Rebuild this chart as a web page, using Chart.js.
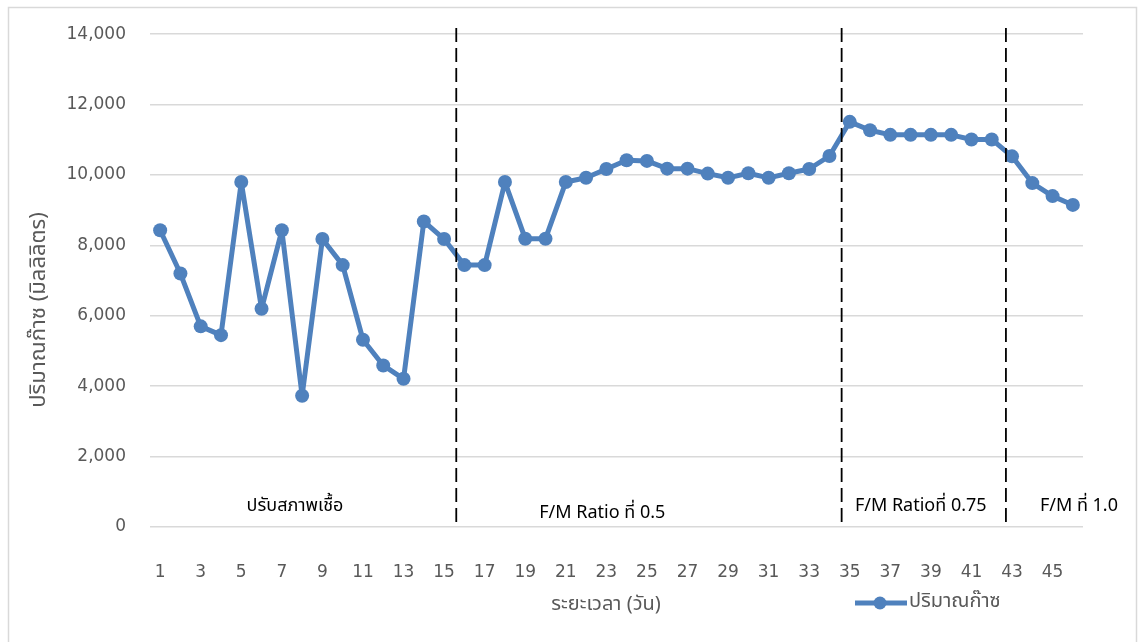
<!DOCTYPE html>
<html>
<head>
<meta charset="utf-8">
<script src="https://cdn.jsdelivr.net/npm/chart.js@4.4.1/dist/chart.umd.min.js"></script>
<style>
  body { margin: 0; background: #fff; }
  #wrap { width: 1139px; height: 642px; }
</style>
</head>
<body>
<div id="wrap"><canvas id="gaschart" width="1139" height="642"></canvas></div>
<script>
const days = ["1","2","3","4","5","6","7","8","9","10","11","12","13","14","15","16",
    "17","18","19","20","21","22","23","24","25","26","27","28","29","30","31",
    "32","33","34","35","36","37","38","39","40","41","42","43","44","45","46"];
const gasVolume = [8430, 7200, 5700, 5450, 9800, 6200, 8430, 3730, 8180, 7440,
    5320, 4590, 4210, 8680, 8180, 7440, 7440, 9800, 8190, 8190,
    9800, 9920, 10170, 10420, 10400, 10180, 10180, 10040, 9920, 10050,
    9920, 10050, 10170, 10540, 11510, 11270, 11140, 11140, 11140, 11140,
    11010, 11010, 10530, 9770, 9400, 9150];

// phase boundaries and labels, in category index units (0 = day 1)
const phaseBreaks = [14.6, 33.6, 41.7];
const phaseNames = ["ปรับสภาพเชื้อ", "F/M Ratio ที่ 0.5", "F/M Ratioที่ 0.75", "F/M ที่ 1.0"];
const phaseCenters = [6.65, 21.8, 37.5, 45.3];
const phaseLabelY = [560, 370, 560, 560];

const yTicks = [0, 2000, 4000, 6000, 8000, 10000, 12000, 14000];

const seriesName = "ปริมาณก๊าซ";
const xTitle = "ระยะเวลา (วัน)";
const yTitle = "ปริมาณก๊าซ (มิลลิลิตร)";

const blue = "#4f81bd";
const grey = "#595959";
const thaiFont = "Tahoma, 'Noto Sans Thai', 'Leelawadee UI', 'DejaVu Sans', sans-serif";

const extras = {
    id: "extras",
    beforeDraw(chart) {
        const c = chart.ctx;
        c.save();
        c.fillStyle = "#fff";
        c.fillRect(0, 0, chart.width, chart.height);
        c.strokeStyle = "#d9d9d9";
        c.lineWidth = 1.5;
        c.strokeRect(8.5, 7.5, 1128, 650);
        c.restore();
    },
    afterDatasetsDraw(chart) {
        const c = chart.ctx;
        const x = chart.scales.x, y = chart.scales.y;
        c.save();
        c.strokeStyle = "#000";
        c.lineWidth = 1.8;
        c.setLineDash([14, 6]);
        phaseBreaks.forEach(b => {
            const px = x.getPixelForValue(b);
            c.beginPath();
            c.moveTo(px, 28);
            c.lineTo(px, chart.chartArea.bottom - 5);
            c.stroke();
        });
        c.setLineDash([]);
        c.fillStyle = "#000";
        c.font = "18px " + thaiFont;
        c.textAlign = "center";
        c.textBaseline = "middle";
        phaseNames.forEach((t, i) => {
            c.fillText(t, x.getPixelForValue(phaseCenters[i]), y.getPixelForValue(phaseLabelY[i]));
        });
        c.restore();
    },
    afterDraw(chart) {
        const c = chart.ctx;
        c.save();
        c.fillStyle = grey;
        c.font = "20px " + thaiFont;
        c.textAlign = "center";
        c.textBaseline = "middle";
        c.fillText(xTitle, 606, 606);

        c.translate(41, 310);
        c.rotate(-Math.PI / 2);
        c.font = "22px " + thaiFont;
        c.fillText(yTitle, 0, 0);
        c.restore();

        // legend
        c.save();
        c.strokeStyle = blue;
        c.lineWidth = 5;
        c.beginPath();
        c.moveTo(855, 603);
        c.lineTo(907, 603);
        c.stroke();
        c.fillStyle = blue;
        c.beginPath();
        c.arc(880, 603, 6.5, 0, Math.PI * 2);
        c.fill();
        c.fillStyle = grey;
        c.font = "20px " + thaiFont;
        c.textAlign = "left";
        c.textBaseline = "middle";
        c.fillText(seriesName, 909, 603);
        c.restore();
    }
};

const ctx = document.getElementById("gaschart").getContext("2d");

window.gasChart = new Chart(ctx, {
    type: "line",
    data: {
        labels: days,
        datasets: [{
            label: seriesName,
            data: gasVolume,
            borderColor: blue,
            backgroundColor: blue,
            borderWidth: 5,
            borderJoinStyle: "round",
            borderCapStyle: "round",
            pointRadius: 7,
            pointBorderWidth: 0,
            pointBackgroundColor: blue,
            tension: 0
        }]
    },
    options: {
        responsive: false,
        animation: false,
        devicePixelRatio: 1,
        layout: { padding: { left: 0, right: 56, top: 27, bottom: 0 } },
        plugins: {
            legend: { display: false },
            tooltip: { enabled: false }
        },
        scales: {
            x: {
                type: "category",
                offset: true,
                grid: { display: false },
                border: { display: false },
                ticks: {
                    autoSkip: false,
                    maxRotation: 0,
                    padding: 27,
                    color: grey,
                    font: { family: "'DejaVu Sans', sans-serif", size: 17 },
                    callback: (v, i) => (i % 2 === 0 ? days[i] : "")
                },
                afterFit: s => { s.height = 115; }
            },
            y: {
                min: 0,
                max: 14000,
                afterBuildTicks: s => { s.ticks = yTicks.map(v => ({ value: v })); },
                grid: { color: "#d9d9d9", lineWidth: 1.5, drawTicks: false },
                border: { display: false },
                ticks: {
                    padding: 24,
                    color: grey,
                    font: { family: "'DejaVu Sans', sans-serif", size: 17 },
                    callback: v => v.toLocaleString("en-US")
                },
                afterFit: s => { s.width = 150; }
            }
        }
    },
    plugins: [extras]
});
</script>
</body>
</html>
